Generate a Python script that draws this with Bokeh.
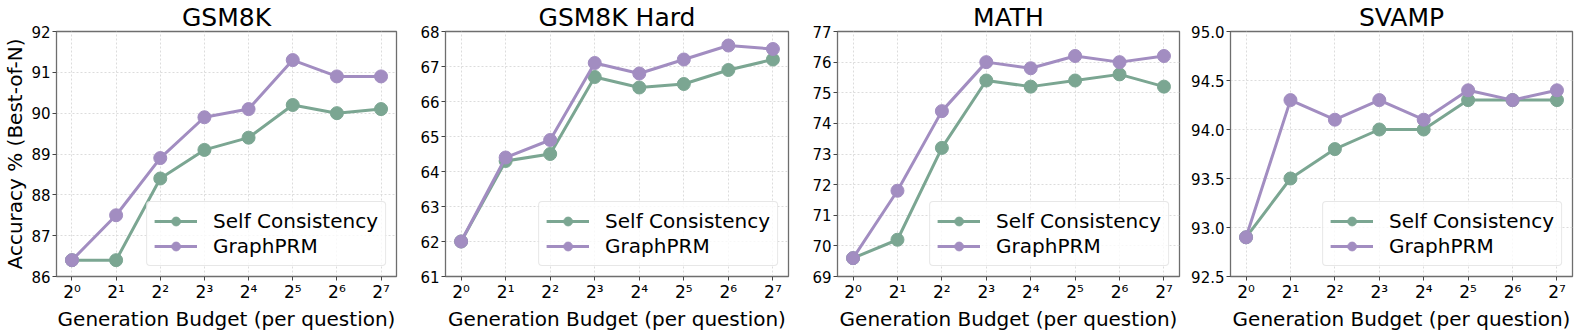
from bokeh.plotting import figure
from bokeh.layouts import row
from bokeh.models import FixedTicker, Range1d, NumeralTickFormatter, Title
from bokeh.embed import file_html
from bokeh.resources import INLINE

# ---------------- data ----------------
budget_labels = ["2⁰", "2¹", "2²", "2³", "2⁴", "2⁵", "2⁶", "2⁷"]
budget_pos = [0, 1, 2, 3, 4, 5, 6, 7]

titles = ["GSM8K", "GSM8K Hard", "MATH", "SVAMP"]
x_label = "Generation Budget (per question)"
y_label = "Accuracy % (Best-of-N)"

gsm8k_sc = [86.4, 86.4, 88.4, 89.1, 89.4, 90.2, 90.0, 90.1]
gsm8k_gp = [86.4, 87.5, 88.9, 89.9, 90.1, 91.3, 90.9, 90.9]

gsm8k_hard_sc = [62.0, 64.3, 64.5, 66.7, 66.4, 66.5, 66.9, 67.2]
gsm8k_hard_gp = [62.0, 64.4, 64.9, 67.1, 66.8, 67.2, 67.6, 67.5]

math_sc = [69.6, 70.2, 73.2, 75.4, 75.2, 75.4, 75.6, 75.2]
math_gp = [69.6, 71.8, 74.4, 76.0, 75.8, 76.2, 76.0, 76.2]

svamp_sc = [92.9, 93.5, 93.8, 94.0, 94.0, 94.3, 94.3, 94.3]
svamp_gp = [92.9, 94.3, 94.1, 94.3, 94.1, 94.4, 94.3, 94.4]

gsm8k_yticks = [86, 87, 88, 89, 90, 91, 92]
gsm8k_hard_yticks = [61, 62, 63, 64, 65, 66, 67, 68]
math_yticks = [69, 70, 71, 72, 73, 74, 75, 76, 77]
svamp_yticks = [92.5, 93.0, 93.5, 94.0, 94.5, 95.0]

series_names = ["Self Consistency", "GraphPRM"]
# --------------------------------------

SC_COLOR = "#7ba692"
GP_COLOR = "#a28dc1"
FONT = "DejaVu Sans"

panels = [
    (titles[0], gsm8k_sc, gsm8k_gp, gsm8k_yticks, "0"),
    (titles[1], gsm8k_hard_sc, gsm8k_hard_gp, gsm8k_hard_yticks, "0"),
    (titles[2], math_sc, math_gp, math_yticks, "0"),
    (titles[3], svamp_sc, svamp_gp, svamp_yticks, "0.0"),
]

# layout: (width, left border, right border)
geom = [(405, 53, 9), (392, 40, 9), (391, 40, 9), (388, 42, 4)]
H = 330

figs = []
for i, (title, sc, gp, yt, fmt) in enumerate(panels):
    W, L, R = geom[i]
    p = figure(width=W, height=H, output_backend="svg", toolbar_location=None,
               x_range=Range1d(-0.35, 7.35), y_range=Range1d(yt[0], yt[-1]),
               min_border_left=L, min_border_right=R,
               min_border_top=0, min_border_bottom=0)
    p.title.text = title
    p.title.align = "center"
    p.title.text_font = FONT
    p.title.text_font_size = "25px"
    p.title.text_font_style = "normal"
    p.title.text_color = "black"
    p.title.text_line_height = 1.0
    p.title.standoff = 0
    p.title.offset = 0

    p.outline_line_color = "#6e6e6e"
    p.outline_line_width = 1.3
    p.background_fill_color = "white"
    p.border_fill_color = "white"

    for g in (p.xgrid[0], p.ygrid[0]):
        g.grid_line_color = "#dcdcdc"
        g.grid_line_dash = "2 2"
        g.grid_line_width = 1

    p.xaxis.ticker = FixedTicker(ticks=budget_pos)
    p.xaxis.major_label_overrides = {pos: lab for pos, lab in zip(budget_pos, budget_labels)}
    p.yaxis.ticker = FixedTicker(ticks=yt)
    p.yaxis.formatter = NumeralTickFormatter(format=fmt)

    for ax in (p.xaxis[0], p.yaxis[0]):
        ax.axis_line_color = None
        ax.major_tick_out = 4
        ax.major_tick_in = 0
        ax.major_tick_line_color = "#444444"
        ax.minor_tick_line_color = None
        ax.major_label_standoff = 2
        ax.major_label_text_font = FONT
        ax.major_label_text_font_size = "15px"
        ax.major_label_text_color = "black"
        ax.major_label_text_line_height = 1.0
        ax.axis_label_text_font = FONT
        ax.axis_label_text_font_size = "20px"
        ax.axis_label_text_font_style = "normal"
        ax.axis_label_text_color = "black"
        ax.axis_label_text_line_height = 1.0
        ax.axis_label_standoff = 1
    p.xaxis.major_label_text_font_size = "17px"
    p.xaxis.major_label_standoff = 1

    p.add_layout(Title(text=x_label, align="center", text_font=FONT,
                       text_font_size="20px", text_font_style="normal",
                       text_color="black", text_line_height=1.0,
                       standoff=0, offset=0), "below")
    if i == 0:
        p.yaxis.axis_label = y_label

    p.line(budget_pos, sc, color=SC_COLOR, line_width=3, legend_label=series_names[0])
    p.scatter(budget_pos, sc, color=SC_COLOR, size=13, legend_label=series_names[0])
    p.line(budget_pos, gp, color=GP_COLOR, line_width=3, legend_label=series_names[1])
    p.scatter(budget_pos, gp, color=GP_COLOR, size=13, legend_label=series_names[1])

    lg = p.legend[0]
    lg.location = "bottom_right"
    lg.margin = 10
    lg.padding = 7
    lg.spacing = 1
    lg.glyph_width = 43
    lg.glyph_height = 22
    lg.label_standoff = 16
    lg.label_text_font = FONT
    lg.label_text_font_size = "20px"
    lg.label_text_color = "black"
    lg.border_line_color = "#d0d0d0"
    lg.border_line_width = 1
    lg.background_fill_alpha = 0.8
    try:
        lg.border_radius = 4
    except Exception:
        pass

    figs.append(p)

layout = row(*figs, spacing=0)
open("out.html", "w").write(file_html(layout, INLINE))
